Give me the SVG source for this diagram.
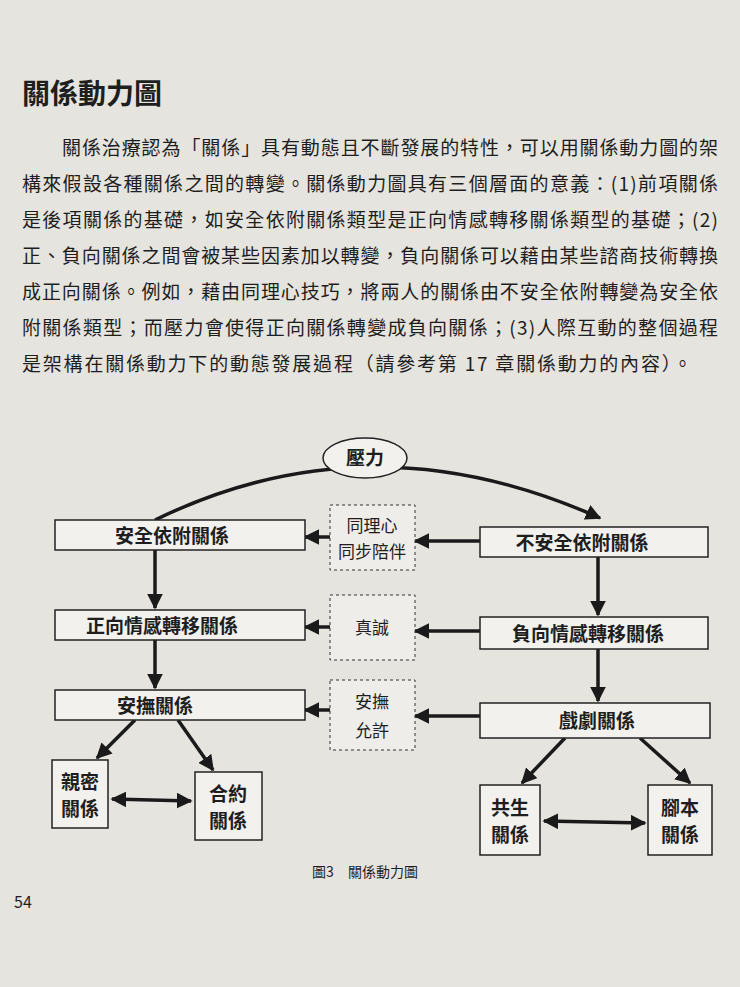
<svg xmlns="http://www.w3.org/2000/svg" width="740" height="987" viewBox="0 0 740 987">
<defs>
<marker id="ah" viewBox="0 0 10 10" refX="9" refY="5" markerWidth="4.5" markerHeight="4.5" orient="auto-start-reverse"><path d="M0,0 L10,5 L0,10 z" fill="#1a1a1a"/></marker>
<style>
text{font-family:"Noto Sans CJK TC","Noto Sans CJK SC",sans-serif;fill:#1e1e1e}
.p{font-size:19px}
.n{font-size:19px;text-anchor:middle;font-weight:bold}
.b{fill:#f2f1ee;stroke:#222;stroke-width:1.5}
.d{fill:#eeede9;stroke:#333;stroke-width:1;stroke-dasharray:3,3}
.c{stroke:#1a1a1a;stroke-width:3.5;fill:none;marker-end:url(#ah)}
.c2{stroke:#1a1a1a;stroke-width:3.5;fill:none;marker-end:url(#ah);marker-start:url(#ah)}
</style>
</defs>
<rect width="740" height="987" fill="#e6e4df"/>
<text x="22" y="104" font-size="28" font-weight="bold">關係動力圖</text>
<text class="p" x="62" y="155" textLength="656">關係治療認為「關係」具有動態且不斷發展的特性，可以用關係動力圖的架</text>
<text class="p" x="22" y="191" textLength="696">構來假設各種關係之間的轉變。關係動力圖具有三個層面的意義：(1)前項關係</text>
<text class="p" x="22" y="227" textLength="696">是後項關係的基礎，如安全依附關係類型是正向情感轉移關係類型的基礎；(2)</text>
<text class="p" x="22" y="263" textLength="696">正、負向關係之間會被某些因素加以轉變，負向關係可以藉由某些諮商技術轉換</text>
<text class="p" x="22" y="299" textLength="696">成正向關係。例如，藉由同理心技巧，將兩人的關係由不安全依附轉變為安全依</text>
<text class="p" x="22" y="335" textLength="696">附關係類型；而壓力會使得正向關係轉變成負向關係；(3)人際互動的整個過程</text>
<text class="p" x="22" y="371" textLength="670">是架構在關係動力下的動態發展過程（請參考第 17 章關係動力的內容）。</text>
<g id="connectors">
<path class="c" d="M155,520 Q370,415 600,518"/>
<path class="c" d="M480,541 L415,541"/><path class="c" d="M330,537 L305,537"/>
<path class="c" d="M480,631 L415,631"/><path class="c" d="M330,627 L305,627"/>
<path class="c" d="M480,716 L415,716"/><path class="c" d="M330,710 L305,710"/>
<path class="c" d="M155,550 L155,608"/><path class="c" d="M155,640 L155,688"/>
<path class="c" d="M598,557 L598,615"/><path class="c" d="M598,649 L598,701"/>
<path class="c" d="M135,720 L97,758"/><path class="c" d="M178,720 L213,770"/>
<path class="c" d="M565,738 L522,783"/><path class="c" d="M640,738 L690,783"/>
<path class="c2" d="M112,799 L191,801"/><path class="c2" d="M544,821 L645,823"/>
</g>
<g id="stress"><ellipse cx="365" cy="458" rx="42" ry="20" fill="#f2f1ee" stroke="#222" stroke-width="1.5"/><text class="n" x="365" y="465">壓力</text></g>
<g id="secure"><rect class="b" x="55" y="520" width="250" height="30"/><text class="n" x="172" y="543">安全依附關係</text></g>
<g id="positive"><rect class="b" x="55" y="610" width="250" height="30"/><text class="n" x="162" y="633">正向情感轉移關係</text></g>
<g id="soothe"><rect class="b" x="55" y="690" width="250" height="30"/><text class="n" x="155" y="713">安撫關係</text></g>
<g id="insecure"><rect class="b" x="480" y="527" width="228" height="30"/><text class="n" x="582" y="550">不安全依附關係</text></g>
<g id="negative"><rect class="b" x="480" y="617" width="228" height="32"/><text class="n" x="588" y="641">負向情感轉移關係</text></g>
<g id="drama"><rect class="b" x="480" y="703" width="230" height="35"/><text class="n" x="597" y="728">戲劇關係</text></g>
<g id="empathy"><rect class="d" x="330" y="505" width="85" height="65"/><text x="372" y="532" font-size="17" text-anchor="middle">同理心</text><text x="372" y="558" font-size="17" text-anchor="middle">同步陪伴</text></g>
<g id="sincere"><rect class="d" x="330" y="595" width="85" height="65"/><text x="372" y="634" font-size="17" text-anchor="middle">真誠</text></g>
<g id="allow"><rect class="d" x="330" y="680" width="85" height="70"/><text x="372" y="708" font-size="17" text-anchor="middle">安撫</text><text x="372" y="737" font-size="17" text-anchor="middle">允許</text></g>
<g id="intimate"><rect class="b" x="52" y="760" width="56" height="68"/><text class="n" x="80" y="789">親密</text><text class="n" x="80" y="816">關係</text></g>
<g id="contract"><rect class="b" x="195" y="772" width="67" height="68"/><text class="n" x="228" y="801">合約</text><text class="n" x="228" y="828">關係</text></g>
<g id="symbiosis"><rect class="b" x="480" y="785" width="60" height="70"/><text class="n" x="510" y="815">共生</text><text class="n" x="510" y="842">關係</text></g>
<g id="script"><rect class="b" x="648" y="785" width="64" height="70"/><text class="n" x="680" y="815">腳本</text><text class="n" x="680" y="842">關係</text></g>
<text x="365" y="877" font-size="14" text-anchor="middle">圖3　關係動力圖</text>
<text x="14" y="908" font-size="16" fill="#555">54</text>
</svg>
